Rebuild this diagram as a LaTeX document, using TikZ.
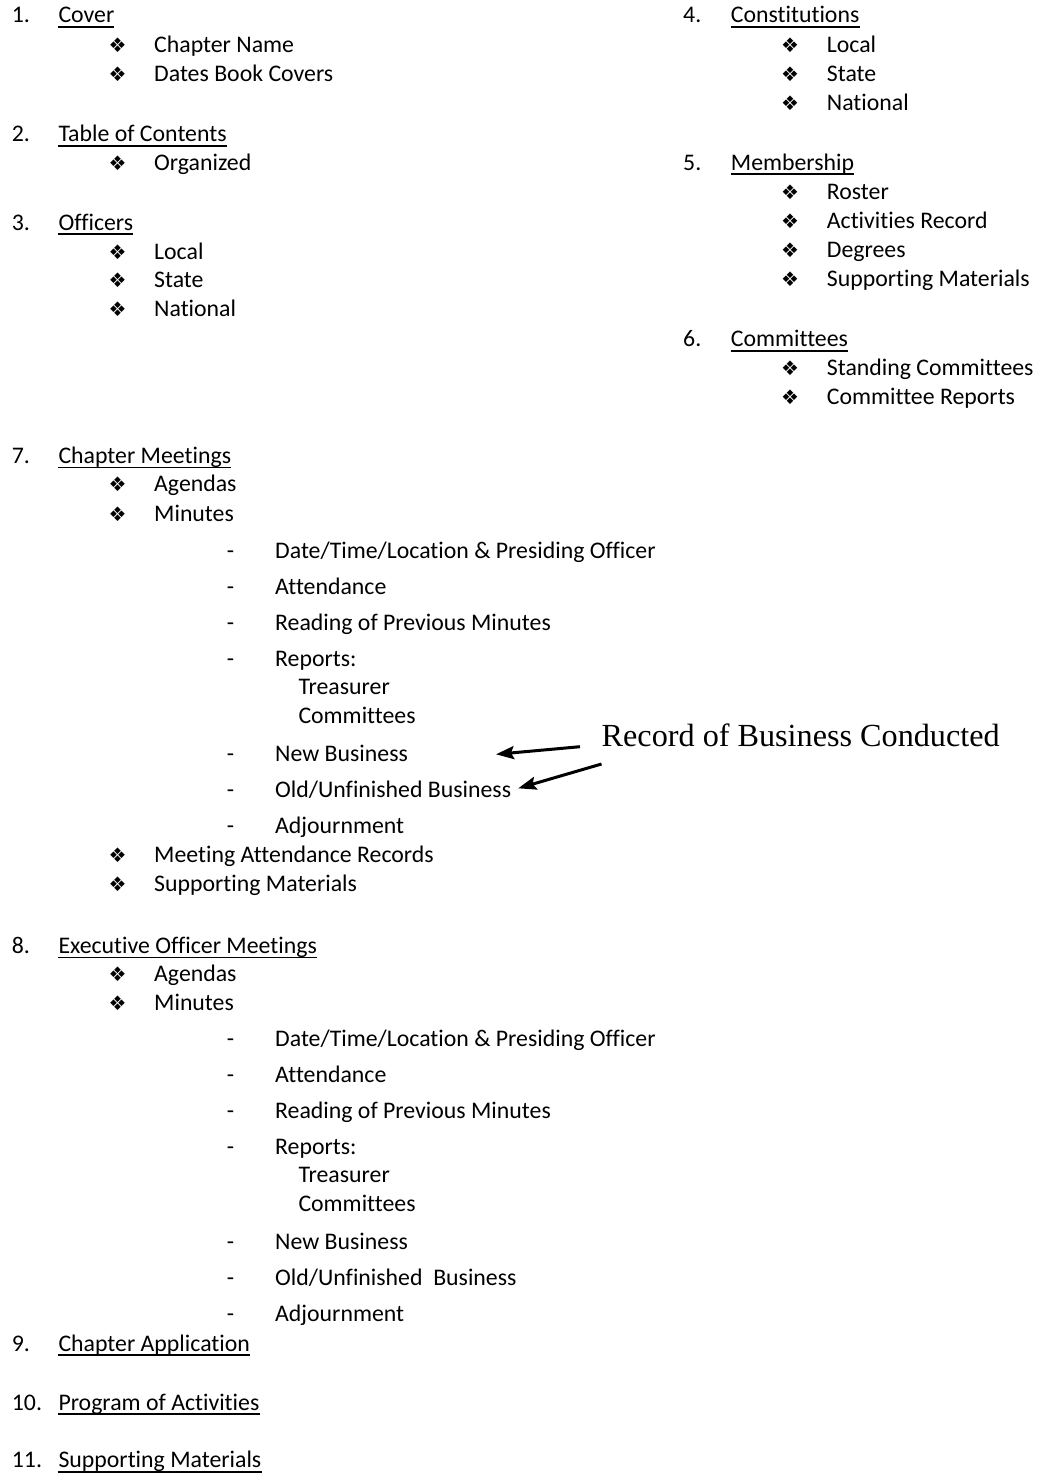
\documentclass[tikz,border=0pt]{standalone}
\usepackage{fontspec}
\setmainfont{Carlito}[Ligatures=NoCommon]
\newfontfamily\symbolfont{DejaVu Sans}
\newfontfamily\timesfont{Liberation Serif}
\usetikzlibrary{arrows.meta}
\tikzstyle{entry}=[anchor=base west,inner sep=0pt,font=\fontsize{23.8}{28}\selectfont]
\tikzstyle{fleuron}=[entry,font=\fontsize{20}{24}\symbolfont]
\tikzstyle{underbar}=[draw,line width=1.7pt]
\tikzstyle{pointer}=[draw,line width=3pt,-{Stealth[length=18pt,width=13pt,inset=3pt]}]

\begin{document}
\begin{tikzpicture}[x=1pt,y=-1pt]
    \useasboundingbox (0,0) rectangle (1039,1473);
    % Numbered headings, each one underlined
    \foreach \y/\nr/\name/\head in {22.7/1./cover/Cover, 141.7/2./toc/Table of Contents,
        230/3./off/Officers, 463.3/7./chm/Chapter Meetings, 953.3/8./exm/Executive Officer Meetings,
        1351/9./app/Chapter Application, 1410/10./prog/Program of Activities,
        1467.5/11./supp/Supporting Materials}
    {
        \node[entry] (n\name) at (11.7,\y) {\nr};
        \node[entry] (\name) at (58.3,\y) {\head};
        \path[underbar] ([yshift=-4.3pt]\name.base west) -- ([yshift=-4.3pt]\name.base east);
    }
    \foreach \y/\nr/\name/\head in {22.7/4./const/Constitutions, 170/5./memb/Membership,
        346.7/6./comm/Committees}
    {
        \node[entry] (n\name) at (683,\y) {\nr};
        \node[entry] (\name) at (730.7,\y) {\head};
        \path[underbar] ([yshift=-4.3pt]\name.base west) -- ([yshift=-4.3pt]\name.base east);
    }

    % Bullet items of the left column
    \foreach \y/\name/\item in {52.3/cname/Chapter Name, 81/dates/Dates Book Covers,
        170/org/Organized, 259/olocal/Local, 287.7/ostate/State, 316.5/onat/National,
        491.7/agenda7/Agendas, 521.3/min7/Minutes, 862.8/attrec/Meeting Attendance Records,
        891.7/supmat/Supporting Materials, 981.7/agenda8/Agendas, 1010/min8/Minutes}
    {
        \node[fleuron] (b\name) at (108.3,\y) {❖};
        \node[entry] (\name) at (154,\y) {\item};
    }
    % Bullet items of the right column
    \foreach \y/\name/\item in {52.3/clocal/Local, 81/cstate/State, 110/cnat/National,
        199/roster/Roster, 228.3/actrec/Activities Record, 257.3/deg/Degrees,
        286/msupp/Supporting Materials, 375.7/stand/Standing Committees,
        404.3/crep/Committee Reports}
    {
        \node[fleuron] (b\name) at (781,\y) {❖};
        \node[entry] (\name) at (826.7,\y) {\item};
    }

    % Minutes of the chapter meetings
    \foreach \y/\name/\item in {558.3/date7/{Date/Time/Location \& Presiding Officer},
        594/att7/Attendance, 630.3/read7/Reading of Previous Minutes, 666.7/rep7/Reports:,
        761.7/nb7/New Business, 797.7/ob7/{Old/Unfinished Business}, 833.3/adj7/Adjournment}
    {
        \node[entry] (d\name) at (226.7,\y) {-};
        \node[entry] (\name) at (275,\y) {\item};
    }
    \node[entry] (treas7) at (298.3,694.5) {Treasurer};
    \node[entry] (comms7) at (298.3,723.5) {Committees};

    % Minutes of the executive officer meetings
    \foreach \y/\name/\item in {1046.5/date8/{Date/Time/Location \& Presiding Officer},
        1082.2/att8/Attendance, 1118.5/read8/Reading of Previous Minutes, 1154.9/rep8/Reports:,
        1249.9/nb8/New Business, 1285.9/ob8/{Old/Unfinished\ \ Business}, 1321.5/adj8/Adjournment}
    {
        \node[entry] (d\name) at (226.7,\y) {-};
        \node[entry] (\name) at (275,\y) {\item};
    }
    \node[entry] (treas8) at (298.3,1182.7) {Treasurer};
    \node[entry] (comms8) at (298.3,1211.7) {Committees};

    % Note with its two arrows
    \node[entry,font=\fontsize{32.2}{36}\timesfont] (rec) at (601.5,746.7) {Record of Business Conducted};
    \coordinate (tip1) at (496,754.3);
    \coordinate (tip2) at (518.3,788.3);
    \path[pointer] ([xshift=-21.5pt]rec.base west) -- (tip1);
    \path[pointer] ([yshift=-17.3pt]rec.base west) -- (tip2);
\end{tikzpicture}
\end{document}
